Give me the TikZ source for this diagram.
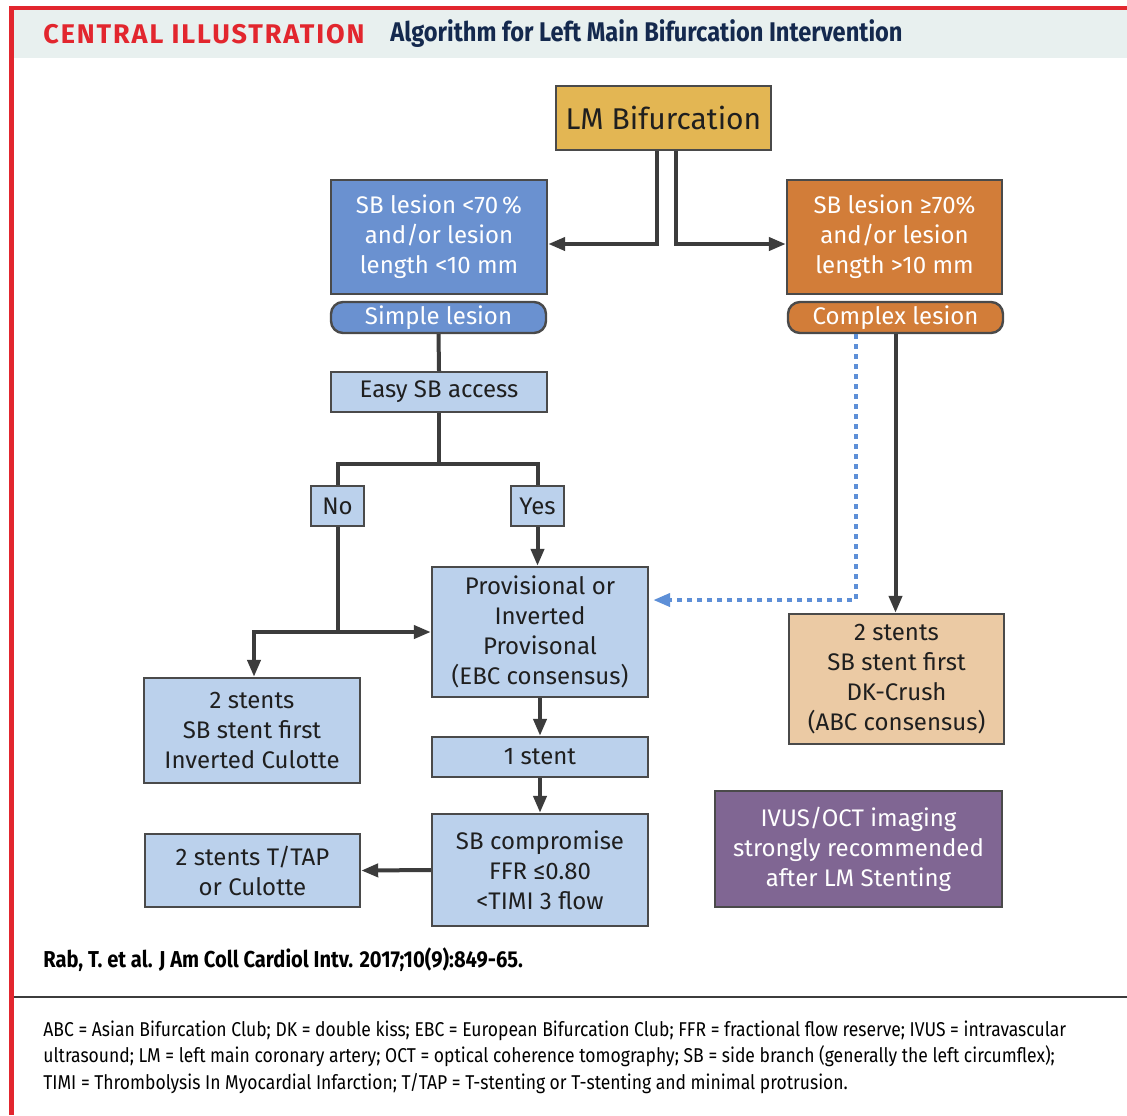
\documentclass[tikz,border=0pt]{standalone}
\usepackage{fontspec}
\setmainfont{Fira Sans}
\newfontfamily\condfont[FakeStretch=0.875]{Fira Sans}
\usetikzlibrary{arrows.meta}

\definecolor{illred}{HTML}{E2262E}
\definecolor{headbg}{HTML}{E8F0EF}
\definecolor{navy}{HTML}{14294E}
\definecolor{lmgold}{HTML}{E3B653}
\definecolor{simpleblue}{HTML}{6A91D0}
\definecolor{complexorange}{HTML}{D27D39}
\definecolor{paleblue}{HTML}{BBD1EC}
\definecolor{paletan}{HTML}{EBCAA4}
\definecolor{imgpurple}{HTML}{806693}
\definecolor{boxline}{HTML}{4A4A4A}
\definecolor{wire}{HTML}{3C3C3C}
\definecolor{dotblue}{HTML}{5D8FD7}

\tikzset{
  box/.style={draw=boxline, line width=1.2pt, inner sep=0pt, align=center,
    text=black!88, font=\fontsize{12}{15}\selectfont},
  lightbox/.style={box, fill=paleblue},
  pill/.style={box, rounded corners=6pt, text=white},
  wireline/.style={draw=wire, line width=2pt},
  arr/.style={wireline, -{Triangle[length=8.5pt,width=6.5pt]}},
  dotarr/.style={draw=dotblue, line width=2pt, dash pattern=on 2.4pt off 2.6pt,
    -{Triangle[length=8.5pt,width=6.5pt]}},
  plaintext/.style={inner sep=0pt, anchor=west},
}

\begin{document}
\begin{tikzpicture}[x=0.5pt,y=-0.5pt]
	% frame and header
	\useasboundingbox[fill=white] (0,0) rectangle (1127,1115);
	\fill[headbg] (14,10) rectangle (1127,58);
	\fill[illred] (9,6) rectangle (1127,10);
	\fill[illred] (9,6) rectangle (14,1115);
	\node[plaintext, text=illred, font=\fontsize{13.5}{15}\bfseries\addfontfeatures{LetterSpace=7}] (ctitle) at (43,34) {CENTRAL ILLUSTRATION};
	\node[plaintext, text=navy, font=\condfont\fontsize{13.5}{15}\bfseries] (atitle) at (390,34) {Algorithm for Left Main Bifurcation Intervention};

	% boxes
	\node[box, fill=lmgold, minimum width=107.5pt, minimum height=32pt, font=\fontsize{15}{18}\selectfont] (lm) at (663.5,118) {LM Bifurcation};
	\node[box, fill=simpleblue, text=white, minimum width=108pt, minimum height=57pt] (lo) at (439,237) {SB lesion <70\,\%\\and/or lesion\\length <10 mm};
	\node[box, fill=complexorange, text=white, minimum width=107.5pt, minimum height=57pt] (hi) at (894.5,237) {SB lesion ≥70\%\\and/or lesion\\length >10 mm};
	\node[pill, fill=simpleblue, minimum width=107.5pt, minimum height=15.5pt] (simple) at (438.5,317.5) {Simple lesion};
	\node[pill, fill=complexorange, minimum width=107.5pt, minimum height=15.5pt] (complex) at (895.5,317.5) {Complex lesion};
	\node[lightbox, minimum width=108pt, minimum height=20pt] (easy) at (439,392) {Easy SB access};
	\node[lightbox, minimum width=26.5pt, minimum height=20pt] (no) at (337.5,506) {No};
	\node[lightbox, minimum width=26.5pt, minimum height=20pt] (yes) at (537.5,506) {Yes};
	\node[lightbox, minimum width=108pt, minimum height=65pt] (prov) at (540,632) {Provisional or\\Inverted\\Provisonal\\(EBC consensus)};
	\node[lightbox, minimum width=108pt, minimum height=52.5pt] (culotte) at (252,730.5) {2 stents\\SB stent first\\Inverted Culotte};
	\node[lightbox, minimum width=108pt, minimum height=20pt] (one) at (540,757) {1 stent};
	\node[lightbox, minimum width=108pt, minimum height=56pt] (comp) at (540,870) {SB compromise\\FFR ≤0.80\\<TIMI 3 flow};
	\node[lightbox, minimum width=107.5pt, minimum height=36.5pt] (tap) at (252.5,870.5) {2 stents T/TAP\\or Culotte};
	\node[box, fill=paletan, minimum width=107.5pt, minimum height=65pt] (crush) at (896.5,679) {2 stents\\SB stent first\\DK-Crush\\(ABC consensus)};
	\node[box, fill=imgpurple, text=white, minimum width=143.5pt, minimum height=58pt] (ivus) at (858.5,849) {IVUS/OCT imaging\\strongly recommended\\after LM Stenting};

	% connectors
	\draw[arr] ([xshift=-3.25pt]lm.south) |- ([yshift=-3.5pt]lo.east);
	\draw[arr] ([xshift=6pt]lm.south) |- ([yshift=-3.5pt]hi.west);
	\draw[wireline] (simple.south) -- (easy.north);
	\draw[wireline] (easy.south) -- ([yshift=-25.5pt]easy.south);
	\draw[wireline] (no.north) |- ([yshift=-25.5pt]easy.south) -| (yes.north);
	\draw[arr] (yes.south) -- (yes.south |- prov.north);
	\draw[arr] (no.south) |- (prov.west);
	\draw[arr] (no.south |- prov.west) -| ([xshift=1pt]culotte.north);
	\draw[arr] (prov.south) -- (one.north);
	\draw[arr] (one.south) -- (comp.north);
	\draw[arr] (comp.west) -- (tap.east);
	\draw[arr] (complex.south) -- (complex.south |- crush.north);
	\draw[dotarr] ([xshift=-19.75pt]complex.south) |- ([xshift=2pt,yshift=16pt]prov.east);

	% source and footnote
	\node[plaintext, font=\condfont\fontsize{11.5}{13}\bfseries] (source) at (43,960) {Rab, T. et al. J Am Coll Cardiol Intv. 2017;10(9):849-65.};
	\draw[wire, line width=1pt] (14,997) -- (1127,997);
	\node[plaintext, anchor=north west, align=left, font=\condfont\fontsize{10}{13.4}\selectfont] (abbrev) at (43,1020) {ABC = Asian Bifurcation Club; DK = double kiss; EBC = European Bifurcation Club; FFR = fractional flow reserve; IVUS = intravascular\\ultrasound; LM = left main coronary artery; OCT = optical coherence tomography; SB = side branch (generally the left circumflex);\\TIMI = Thrombolysis In Myocardial Infarction; T/TAP = T-stenting or T-stenting and minimal protrusion.};
\end{tikzpicture}
\end{document}
